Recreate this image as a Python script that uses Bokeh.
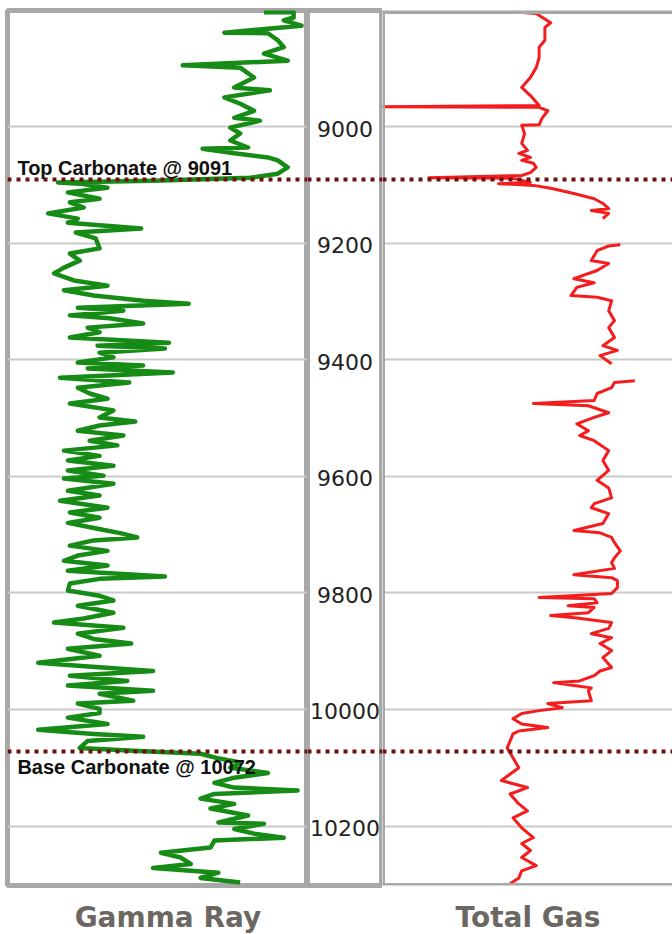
from bokeh.plotting import figure
from bokeh.models import Range1d, Span, Label, FixedTicker
from bokeh.layouts import row, column
from bokeh.embed import file_html
from bokeh.resources import INLINE
from bokeh.core.properties import value

nan = float("nan")

# ---------------- data ----------------
depth_ticks = [9000, 9200, 9400, 9600, 9800, 10000, 10200]
depth_labels = ["9000", "9200", "9400", "9600", "9800", "10000", "10200"]
top_carbonate = 9091
base_carbonate = 10072
top_label = "Top Carbonate @ 9091"
base_label = "Base Carbonate @ 10072"
track_titles = ["Gamma Ray", "Total Gas"]

gr_depth = [
    8804, 8804, 8813, 8818, 8827, 8839, 8840, 8852, 8864, 8875,
    8887, 8895, 8899, 8916, 8933, 8938, 8950, 8961, 8973, 8985,
    8990, 9002, 9012, 9024, 9036, 9038, 9046, 9053, 9058, 9070,
    9081, 9088, 9093, 9096, 9098, 9105, 9113, 9124, 9130, 9139,
    9149, 9158, 9165, 9175,
    9182, 9192, 9209, 9218, 9230, 9242, 9252, 9264, 9273, 9281,
    9290, 9299, 9304, 9311, 9316, 9324, 9329, 9338, 9345, 9353,
    9362, 9371, 9376, 9381, 9388, 9396, 9405, 9410, 9415, 9422,
    9431, 9439, 9448, 9458, 9467, 9475, 9487, 9499, 9506, 9513,
    9522, 9530, 9539, 9547, 9556, 9565, 9573, 9582, 9590, 9599,
    9604, 9613, 9625, 9633, 9642, 9654, 9662, 9671, 9680, 9690,
    9698, 9705, 9710, 9719, 9728, 9736, 9745, 9753, 9762, 9772,
    9776, 9784, 9796, 9805, 9813, 9822, 9834, 9844, 9851, 9860,
    9870, 9879, 9887, 9896, 9908, 9920, 9925, 9934, 9942, 9951,
    9959, 9968, 9973, 9985, 9990, 9999,
    10006, 10014, 10025, 10035, 10042, 10047, 10054, 10066, 10071, 10076,
    10083, 10091, 10100, 10109, 10117, 10126, 10134, 10139, 10145, 10153,
    10162, 10170, 10182, 10194, 10196, 10205, 10213, 10220, 10225, 10237,
    10246, 10254, 10265, 10272, 10280, 10289, 10297,
]
gr_api = [
    128, 143, 143, 138, 147, 108, 130, 135, 138, 128,
    140, 87, 116, 123, 113, 131, 108, 116, 123, 113,
    126, 111, 116, 111, 120, 97, 113, 130, 135, 140,
    135, 121, 72, 24, 35, 49, 29, 45, 30, 37,
    19, 34, 29, 66,
    33, 43, 45, 30, 35, 27, 22, 32, 49, 27,
    42, 67, 90, 34, 57, 30, 50, 67, 39, 45,
    30, 80, 44, 78, 45, 52, 34, 67, 39, 82,
    25, 60, 34, 40, 49, 30, 52, 45, 63, 45,
    34, 57, 40, 54, 27, 45, 29, 52, 29, 47,
    27, 52, 29, 45, 25, 49, 30, 45, 29, 44,
    56, 64, 42, 30, 49, 34, 27, 49, 29, 78,
    45, 30, 29, 45, 52, 34, 52, 37, 22, 57,
    34, 42, 61, 29, 45, 14, 34, 72, 30, 59,
    29, 72, 45, 62, 34, 45,
    45, 29, 49, 14, 42, 67, 39, 35, 62, 96,
    104, 116, 111, 130, 113, 103, 113, 145, 103, 96,
    113, 101, 120, 105, 128, 113, 123, 138, 103, 101,
    76, 86, 91, 72, 105, 96, 116,
]

gas_depth = [
    8804, 8806, 8822, 8830, 8852, 8864, 8882, 8899, 8916, 8933,
    8947, 8964, 8966, 8967, 8973, 8986, 8997, 8998, 9012, 9029,
    9041, 9046, 9053, 9058, 9063, 9070, 9079, 9084, 9088, 9089,
    9096, 9098, 9101, 9106, 9115, 9124, 9132, 9141, 9144, 9149,
    9158, nan,
    9203, 9205, 9213, 9230, 9235, 9247, 9261, 9268, 9276, 9290,
    9293, 9299, 9316, 9333, 9345, 9362, 9376, 9384, 9393, 9407, nan,
    9436, 9439, 9448, 9458, 9470, 9475, 9479, 9491, 9499, 9510,
    9522, 9530, 9539, 9556, 9573, 9590, 9607, 9620, 9637, 9647,
    9654, 9664, 9681, 9693, 9697, 9705, 9714, 9728, 9740, 9748,
    9758, 9769, 9774, 9779, 9791, 9801, 9808, 9810, 9817, 9822,
    9825, 9834, 9839, 9843, 9851, 9861, 9870, 9877, 9887, 9899,
    9911, 9928, 9934, 9942, 9951, 9954, 9959, 9963, 9968, 9985,
    9990, 9997, 10002, 10007, 10016, 10025, 10031, 10037, 10042, 10054,
    10066, 10083, 10100, 10122, 10134, 10145, 10162, 10174, 10186, 10203,
    10220, 10230, 10242, 10254, 10268, 10277, 10289, 10299,
]
gas_units = [
    47, 53, 58, 56, 56, 54, 54, 53, 51, 48,
    51, 54, 0, 54, 57, 55, 54, 48, 49, 48,
    50, 47, 51, 48, 52, 53, 51, 48, 16, 45,
    51, 40, 52, 58, 66, 73, 76, 78, 72, 78,
    76, nan,
    82, 78, 74, 72, 78, 74, 66, 73, 67, 65,
    74, 79, 78, 80, 78, 80, 76, 81, 75, 79, nan,
    87, 80, 79, 74, 73, 52, 71, 78, 73, 67,
    71, 68, 73, 78, 76, 78, 74, 78, 79, 73,
    72, 78, 76, 66, 75, 79, 80, 82, 80, 79,
    80, 66, 79, 81, 81, 79, 54, 73, 74, 64,
    73, 71, 58, 67, 79, 78, 72, 79, 75, 79,
    76, 79, 75, 73, 68, 59, 66, 72, 71, 72,
    57, 62, 54, 48, 45, 48, 57, 47, 45, 44,
    43, 45, 47, 41, 50, 44, 47, 50, 45, 48,
    52, 48, 51, 48, 53, 48, 47, 44,
]

# ---------------- style ----------------
BORDER = "#a8a8a8"
GRID = "#c9c9c9"
GR_COLOR = "#168c16"
GAS_COLOR = "#f41c1c"
MARKER = "#6e1010"
TITLE = "#6c6762"

Y_TOP, Y_BOT = 8801, 10302
yr = Range1d(start=Y_BOT, end=Y_TOP)

common = dict(height=888, y_range=yr, toolbar_location=None, output_backend="svg",
              x_axis_location=None, y_axis_location=None,
              min_border_top=10, min_border_bottom=3,
              background_fill_color="white", border_fill_color="white")

gr_fig = figure(width=307, x_range=Range1d(-1.5, 150), min_border_left=7, min_border_right=0, **common)
dp_fig = figure(width=75, x_range=Range1d(0, 1), min_border_left=0, min_border_right=0, **common)
gas_fig = figure(width=290, x_range=Range1d(0, 100), min_border_left=0, min_border_right=0, **common)

for f in (gr_fig, gas_fig):
    f.xgrid.visible = False
    f.ygrid.ticker = FixedTicker(ticks=depth_ticks)
    f.ygrid.grid_line_color = GRID
    f.ygrid.grid_line_width = 2
dp_fig.grid.visible = False

for f in (gr_fig, dp_fig):
    f.outline_line_color = BORDER
    f.outline_line_width = 5
    f.outline_line_alpha = 1.0
gas_fig.outline_line_color = None
for loc, dim, w in ((Y_TOP, "width", 7), (Y_BOT, "width", 5), (0, "height", 5)):
    gas_fig.add_layout(Span(location=loc, dimension=dim, line_color=BORDER, line_width=w))

gr_fig.line(gr_api, gr_depth, line_color=GR_COLOR, line_width=4.5, line_join="round")
gas_fig.line(gas_units, gas_depth, line_color=GAS_COLOR, line_width=3, line_join="round")

dp_fig.text(x=[0.5] * len(depth_ticks), y=depth_ticks, text=depth_labels,
            text_align="center", text_baseline="middle", y_offset=2,
            text_font=value("DejaVu Sans"), text_font_size="22px", text_color="#222222")

for f in (gr_fig, dp_fig, gas_fig):
    for d in (top_carbonate, base_carbonate):
        f.add_layout(Span(location=d, dimension="width", line_color=MARKER,
                          line_width=4, line_dash="4 5"))

gr_fig.add_layout(Label(x=3.5, y=top_carbonate, y_offset=12, text=top_label,
                        text_font="Liberation Sans", text_font_style="bold",
                        text_font_size="20px", text_color="#111111",
                        text_align="left", text_baseline="alphabetic"))
gr_fig.add_layout(Label(x=3.5, y=base_carbonate, y_offset=-16, text=base_label,
                        text_font="Liberation Sans", text_font_style="bold",
                        text_font_size="20px", text_color="#111111",
                        text_align="left", text_baseline="alphabetic"))

# track titles strip below the tracks
title_fig = figure(width=672, height=46, x_range=Range1d(0, 672), y_range=Range1d(0, 46),
                   toolbar_location=None, output_backend="svg",
                   x_axis_location=None, y_axis_location=None,
                   min_border=0, outline_line_color=None,
                   background_fill_color="white", border_fill_color="white")
title_fig.grid.visible = False
title_fig.text(x=[167.5, 527.5], y=[17, 17], text=track_titles,
               text_align="center", text_baseline="alphabetic",
               text_font=value("DejaVu Sans"), text_font_style="bold",
               text_font_size="28px", text_color=TITLE)

layout = column(row(gr_fig, dp_fig, gas_fig, spacing=0), title_fig, spacing=0)
open("out.html", "w").write(file_html(layout, INLINE))
